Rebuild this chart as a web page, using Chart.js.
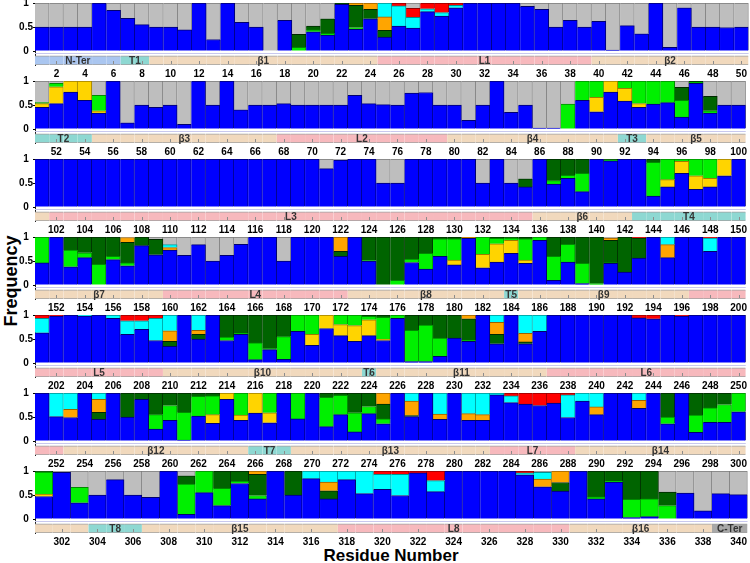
<!DOCTYPE html>
<html>
<head>
<meta charset="utf-8">
<title>Secondary structure frequency per residue</title>
<script src="https://cdn.jsdelivr.net/npm/chart.js@4.4.1/dist/chart.umd.min.js"></script>
<style>
  body { margin: 0; background: #fff; }
  #page { position: relative; width: 750px; height: 563px; overflow: hidden; background: #fff; }
  #page canvas { position: absolute; left: 0; }
  .axis-title { position: absolute; font: bold 18px 'Liberation Sans', Arial, sans-serif; color: #000; white-space: nowrap; }
  #ytitle { left: 11px; top: 281px; transform: translate(-50%, -50%) rotate(-90deg); }
  #xtitle { left: 391px; top: 556px; font-size: 17px; transform: translate(-50%, -50%); }
</style>
</head>
<body>
<div id="page">
  <div class="axis-title" id="ytitle">Frequency</div>
  <div class="axis-title" id="xtitle">Residue Number</div>
</div>
<script>
// residues shown on each of the seven rows
const rowFirst = [1, 51, 101, 151, 201, 251, 301];
const rowLast = [50, 100, 150, 200, 250, 300, 340];

// per-residue frequencies, one value per residue 1..340 (ten per group, one row per line)
const blue = [
  .5,.5,.5,.5,1,.85,.68,.55,.5,.5, .44,1,.24,1,.6,.5,0,.64,0,.4, .33,.97,.45,.67,.29,.52,.48,.82,.73,.9, 1,1,1,1,.93,.87,.5,.64,.5,.62, .02,.53,.36,1,.08,.9,.5,.5,.49,.5,
  .45,.53,.77,.6,.33,1,.13,.5,.45,.5, .1,1,.5,1,.4,.5,.5,.53,.5,.5, .5,.5,.7,.53,.51,.5,.75,.76,.5,.5, .18,.5,1,.35,.5,.02,.02,0,.6,.36, .77,.58,.45,.52,.55,.25,.95,.33,.5,.5,
  1,1,1,1,1,1,1,1,1,1, 1,1,1,1,1,1,1,1,1,1, .8,.98,1,1,.5,.5,1,1,1,1, 1,.5,1,.5,.42,1,.48,.6,.32,1, .96,1,1,.23,.42,.7,.37,.42,.65,1,
  .46,1,.38,.57,0,.53,.4,.82,.63,.73, .62,.84,.5,.62,.85,1,1,.5,1,1, 1,.6,1,.5,0,0,.47,.33,.6,.42, .97,.36,.48,.66,.45,.93,.1,.48,.03,0, .45,.27,.56,1,.57,1,1,.7,1,1,
  .63,.98,1,.98,1,.93,.6,.7,.47,.35, 1,.5,1,.47,.6,.07,.28,.08,.66,.37, .72,.57,.45,.57,.47,.93,.03,.03,.14,.52, .45,1,.4,1,.4,.66,1,1,1,1, 1,1,.94,.92,1,.98,1,1,1,1,
  1,.51,.49,1,.45,1,.5,.87,.25,.43, .02,.52,.37,.87,.43,.58,.38,1,.46,1, .3,.55,.19,.57,.36,1,.51,1,.45,1, .43,.43,.96,.8,.77,.74,.79,.49,.83,.55, 1,1,.68,1,.36,1,.18,.39,.39,.61,
  .47,.97,.34,.5,.82,.5,.45,1,.1,.55, .28,.74,.42,1,.5,.84,.42,.82,.53,.62, .49,.96,.57,1,1,1,1,.92,.67,.58, 1,.42,.77,.03,.05,0,.54,.17,.53,.51
];
const gold = [
  0,0,0,0,0,0,0,0,0,0, 0,0,0,0,0,0,0,0,0,0, 0,0,0,0,0,0,0,0,0,0, 0,0,0,0,0,0,0,0,0,0, 0,0,0,0,0,0,0,0,0,0,
  .08,.35,.23,.4,.05,0,0,0,0,0, 0,0,0,0,0,0,0,0,0,0, 0,0,0,0,0,0,0,0,0,0, 0,0,0,0,0,0,0,0,0,.3, .23,.27,.08,0,0,0,0,0,0,0,
  0,0,0,0,0,0,0,0,0,0, 0,0,0,0,0,0,0,0,0,0, 0,0,0,0,0,0,0,0,0,0, 0,0,0,0,0,0,0,0,0,0, 0,0,0,0,.15,.25,.28,.18,.35,0,
  0,0,0,0,0,0,0,0,0,0, 0,0,0,0,0,0,0,0,0,0, 0,0,0,0,0,0,0,0,0,.1, 0,.28,.38,.27,.07,0,0,0,0,0, 0,0,0,0,0,0,0,0,0,0,
  0,0,0,0,0,0,0,0,0,0, 0,0,0,0,0,0,0,0,0,.23, .28,.23,.33,.33,.03,0,0,0,0,0, 0,0,0,0,0,0,0,0,0,0, 0,0,0,0,0,0,0,0,0,0,
  0,0,0,0,0,0,0,0,0,0, 0,0,.18,.13,.11,.42,.21,0,0,0, 0,0,0,0,0,0,0,0,0,0, 0,0,0,0,0,0,0,0,0,0, 0,0,0,0,0,0,0,0,0,0,
  .05,0,0,0,0,0,0,0,0,0, 0,0,0,0,0,0,0,0,0,0, 0,0,0,0,0,0,0,0,0,0, 0,0,0,0,0,0,0,0,0,0
];
const green = [
  0,0,0,0,0,0,0,0,0,0, 0,0,0,0,0,0,0,0,.08,.04, .04,0,.04,0,0,0,0,0,0,0, 0,0,0,0,0,0,0,0,0,0, 0,0,0,0,0,0,0,0,0,0,
  .02,.07,0,0,.32,0,0,0,0,0, 0,0,0,0,0,0,0,0,0,0, 0,0,0,0,0,0,0,0,0,0, 0,0,0,0,0,0,0,.52,.4,.34, 0,.15,.47,.48,.45,.35,.02,.05,0,0,
  0,0,0,0,0,0,0,0,0,0, 0,0,0,0,0,0,0,0,0,0, 0,0,0,0,0,0,0,0,0,0, 0,0,0,0,0,0,.07,.06,.38,0, .02,0,0,.7,.43,.05,.35,.4,0,0,
  .54,0,.35,.1,.43,.07,.06,0,0,0, 0,0,0,0,0,0,0,0,0,0, 0,0,0,.01,0,.1,.07,.33,.36,.44, 0,.36,.11,.05,.44,.07,.5,.37,.42,.03, .01,0,0,0,0,0,0,0,0,0,
  0,0,0,0,0,0,0,0,0,0, 0,0,0,.07,.02,.35,.02,.47,.34,.4, 0,.2,.22,.07,.45,.07,.65,.76,.38,0, .03,0,0,0,0,0,0,0,0,0, 0,0,0,0,0,0,0,0,0,0,
  0,0,0,0,0,0,0,0,.3,.31, .58,.41,.39,0,.46,0,.41,0,.54,0, .61,.4,.4,.15,.1,0,0,0,0,0, 0,0,0,0,0,0,0,0,0,0, 0,0,0,0,.14,0,.36,.3,.37,.39,
  .46,0,.32,0,0,0,0,0,.63,.45, .36,.05,.07,0,0,0,0,0,0,0, 0,0,0,0,0,0,0,0,0,0, 0,.04,.02,.38,.37,.28,0,0,0,0
];
const darkGreen = [
  0,0,0,0,0,0,0,0,0,0, 0,0,0,0,0,0,0,0,.27,.08, .3,.03,.46,.2,.14,0,0,0,0,0, 0,0,0,0,0,0,0,0,0,0, 0,0,0,0,0,0,0,0,0,0,
  0,0,0,0,0,0,0,0,0,0, 0,0,0,0,0,0,0,0,0,0, 0,0,0,0,0,0,0,0,0,0, 0,0,0,0,0,0,0,0,0,0, 0,0,0,0,0,.27,.03,.3,0,0,
  0,0,0,0,0,0,0,0,0,0, 0,0,0,0,0,0,0,0,0,0, 0,0,0,0,0,0,0,0,0,0, 0,0,0,0,.17,0,.45,.34,.3,0, .02,0,0,.07,0,0,0,0,0,0,
  0,0,.27,.33,.57,.4,.43,.18,.32,0, 0,0,0,0,0,0,0,0,0,0, 0,.1,0,.49,1,.9,.46,.34,.04,.04, 0,0,.03,.02,.04,0,.4,.15,.55,.97, .47,.73,.42,0,0,0,0,0,0,0,
  0,0,0,0,0,0,0,0,0,.1, 0,.1,0,.46,.38,.58,.7,.45,0,0, 0,0,0,.03,.05,0,.32,.21,.48,.48, .44,0,.2,0,.04,0,0,0,0,0, 0,0,0,0,0,0,0,0,0,0,
  0,0,0,0,.15,0,.5,.13,.45,.26, .4,.07,.06,0,0,0,0,0,0,0, .09,.05,.41,.28,.31,0,.02,0,0,0, 0,0,0,0,0,0,0,0,0,0, 0,0,0,0,.5,0,.46,.31,.24,0,
  .02,0,0,0,0,0,0,0,.17,0, .36,.21,.44,0,.5,0,.17,0,0,0, 0,0,0,0,0,0,0,0,0,.18, 0,.54,.21,.59,.58,.28,0,0,0,0
];
const orange = [
  0,0,0,0,0,0,0,0,0,0, 0,0,0,0,0,0,0,0,0,0, 0,0,.05,.13,.28,0,0,0,0,0, 0,0,0,0,0,0,0,0,0,0, 0,0,0,0,0,0,0,0,0,0,
  0,0,0,0,0,0,0,0,0,0, 0,0,0,0,0,0,0,0,0,0, 0,0,0,0,0,0,0,0,0,0, 0,0,0,0,0,0,0,0,0,0, 0,0,0,0,0,0,0,0,0,0,
  0,0,0,0,0,0,0,0,0,0, 0,0,0,0,0,0,0,0,0,0, 0,0,0,0,0,0,0,0,0,0, 0,0,0,0,0,0,0,0,0,0, 0,0,0,0,0,0,0,0,0,0,
  0,0,0,0,0,0,.1,0,0,.05, 0,0,0,0,0,0,0,0,0,0, 0,.3,0,0,0,0,0,0,0,0, .03,0,0,0,0,0,0,0,0,0, .05,0,0,0,.27,0,0,0,0,0,
  0,0,0,0,0,0,0,0,0,.22, 0,.08,0,0,0,0,0,0,0,0, 0,0,0,0,0,0,0,0,0,0, .08,0,.25,0,.18,0,0,0,0,0, 0,0,0,0,0,0,0,0,0,0,
  0,0,.17,0,.27,0,0,0,0,0, 0,0,0,0,0,0,0,0,0,0, 0,0,0,0,.23,0,.3,0,.11,0, .14,.12,0,0,0,0,0,0,0,.16, 0,0,.17,0,0,0,0,0,0,0,
  0,0,0,0,0,0,0,0,0,0, 0,0,.07,0,0,0,.18,0,0,0, 0,0,0,0,0,0,0,0,.16,.24, 0,0,0,0,0,0,0,0,0,0
];
const cyan = [
  0,0,0,0,0,0,0,0,0,0, 0,0,0,0,0,0,0,0,0,0, 0,0,0,0,.29,.42,.22,.06,.07,.05, 0,0,0,0,0,0,0,0,0,0, 0,0,0,0,0,0,0,0,0,0,
  0,0,0,0,0,0,0,0,0,0, 0,0,0,0,0,0,0,0,0,0, 0,0,0,0,0,0,0,0,0,0, 0,0,0,0,0,0,0,0,0,0, 0,0,0,0,0,0,0,0,0,0,
  0,0,0,0,0,0,0,0,0,0, 0,0,0,0,0,0,0,0,0,0, 0,0,0,0,0,0,0,0,0,0, 0,0,0,0,0,0,0,0,0,0, 0,0,0,0,0,0,0,0,0,0,
  0,0,0,0,0,0,0,0,0,.06, 0,0,0,0,0,0,0,0,0,0, 0,0,0,0,0,0,0,0,0,0, 0,0,0,0,0,0,0,0,0,0, 0,0,0,0,.16,0,0,.28,0,0,
  .3,0,0,.02,0,.07,.28,.18,.46,.33, 0,.32,0,0,0,0,0,0,0,0, 0,0,0,0,0,0,0,0,0,0, 0,0,.15,0,.38,.34,0,0,0,0, 0,0,0,0,0,0,0,0,0,0,
  0,.49,.34,0,.13,0,0,0,0,0, 0,0,0,0,0,0,0,0,0,0, 0,0,0,0,0,0,.17,0,.44,0, .43,.45,.04,.14,0,0,0,.47,.17,.29, 0,0,.15,0,0,0,0,0,0,0,
  0,0,0,0,0,0,0,0,0,0, 0,0,0,0,0,.16,.23,.18,.47,.31, .44,0,.23,0,0,0,0,.04,.14,0, 0,0,0,0,0,0,0,0,0,0
];
const red = [
  0,0,0,0,0,0,0,0,0,0, 0,0,0,0,0,0,0,0,0,0, 0,0,0,0,0,.06,.19,.12,.2,.05, 0,0,0,0,0,0,0,0,0,0, 0,0,0,0,0,0,0,0,0,0,
  0,0,0,0,0,0,0,0,0,0, 0,0,0,0,0,0,0,0,0,0, 0,0,0,0,0,0,0,0,0,0, 0,0,0,0,0,0,0,0,0,0, 0,0,0,0,0,0,0,0,0,0,
  0,0,0,0,0,0,0,0,0,0, 0,0,0,0,0,0,0,0,0,0, 0,0,0,0,0,0,0,0,0,0, 0,0,0,0,0,0,0,0,0,0, 0,0,0,0,0,0,0,0,0,0,
  0,0,0,0,0,0,0,0,0,0, 0,0,0,0,0,0,0,0,0,0, 0,0,0,0,0,0,0,0,0,0, 0,0,0,0,0,0,0,0,0,0, 0,0,.02,0,0,0,0,.02,0,0,
  .07,.02,0,0,0,0,.12,.12,.07,0, 0,0,0,0,0,0,0,0,0,0, 0,0,0,0,0,0,0,0,0,0, 0,0,0,0,0,0,0,0,0,0, 0,0,.06,.08,0,.02,0,0,0,0,
  0,0,0,0,0,0,0,0,0,0, 0,0,0,0,0,0,0,0,0,0, 0,0,0,0,0,0,0,0,0,0, 0,0,0,.06,.23,.26,.21,.04,0,0, 0,0,0,0,0,0,0,0,0,0,
  0,0,0,0,0,0,0,0,0,0, 0,0,0,0,0,0,0,0,0,.07, .07,.04,.2,0,0,0,0,.04,0,0, 0,0,0,0,0,0,0,0,0,0
];
const gray = [
  .5,.5,.5,.5,0,.15,.32,.45,.5,.5, .56,0,.76,0,.4,.5,1,.36,.65,.48, .33,0,0,0,0,0,.11,0,0,0, 0,0,0,0,.07,.13,.5,.36,.5,.38, .98,.47,.64,0,.92,.1,.5,.5,.51,.5,
  .45,.05,0,0,.3,0,.87,.5,.55,.5, .9,0,.5,0,.6,.5,.5,.47,.5,.5, .5,.5,.3,.47,.49,.5,.25,.24,.5,.5, .82,.5,0,.65,.5,.98,.98,.48,0,0, 0,0,0,0,0,.13,0,.32,.5,.5,
  0,0,0,0,0,0,0,0,0,0, 0,0,0,0,0,0,0,0,0,0, .2,.02,0,0,.5,.5,0,0,0,0, 0,.5,0,.5,.41,0,0,0,0,0, 0,0,0,0,0,0,0,0,0,0,
  0,0,0,0,0,0,.01,0,.05,.16, .38,.16,.5,.38,.15,0,0,.5,0,0, 0,0,0,0,0,0,0,0,0,0, 0,0,0,0,0,0,0,0,0,0, .02,0,0,0,0,0,0,0,0,0,
  0,0,0,0,0,0,0,0,0,0, 0,0,0,0,0,0,0,0,0,0, 0,0,0,0,0,0,0,0,0,0, 0,0,0,0,0,0,0,0,0,0, 0,0,0,0,0,0,0,0,0,0,
  0,0,0,0,0,0,0,0,0,0, 0,0,0,0,0,0,0,0,0,0, 0,0,0,0,0,0,0,0,0,0, 0,0,0,0,0,0,0,0,0,0, 0,0,0,0,0,0,0,0,0,0,
  0,.03,.34,.5,.18,.5,.55,0,.1,0, 0,0,0,0,0,0,0,0,0,0, 0,0,0,0,0,0,0,0,.03,0, 0,0,0,0,0,.44,.46,.83,.47,.49
];

// secondary structure segments (first and last residue of each)
const ssNames = ['N-Ter','T1','β1','L1','β2','T2','β3','L2','β4','T3','β5','L3','β6','T4','β7','L4','β8','T5','β9','L5',
  'β10','T6','β11','L6','β12','T7','β13','L7','β14','T8','β15','L8','β16','C-Ter'];
const ssStart = [1,7,9,25,40,51,55,68,80,92,94,102,136,143,151,160,173,184,185,197,210,224,225,237,253,266,269,283,289,304,307,318,331,339];
const ssEnd = [6,8,24,39,50,54,67,79,91,93,101,135,142,150,159,172,183,184,196,209,223,224,236,252,265,268,282,288,303,306,317,330,338,340];

// stacking order bottom -> top
const series = [blue, gold, green, darkGreen, orange, cyan, red, gray];
const seriesFill = ['#0000ff', '#ffd400', '#00f000', '#006400', '#ffa500', '#00ffff', '#ff0000', '#bebebe'];
const seriesEdge = ['#00006e', '#9c7d00', '#008a00', '#002800', '#9a6000', '#009090', '#900000', '#7a7a7a'];
const ssFill = {N: '#aac6f0', T: '#8ed8d2', b: '#f1d9bd', L: '#f7b9bd', C: '#a8a8a8'};

series.forEach((s, i) => { if (s.length !== 340) throw new Error('series ' + i + ' has ' + s.length + ' values'); });

const BAND_LO = -0.29, BAND_HI = -0.1;
const FONT = "'Liberation Sans', Arial, Helvetica, sans-serif";
const ROW_TOP = 3.3, ROW_STEP = 77.9, PAD_TOP = 8;

function ssKind(name) {
  if (name === 'N-Ter') return 'N';
  if (name === 'C-Ter') return 'C';
  return name[0] === 'β' ? 'b' : name[0];
}

function segmentOf(r) {
  for (let j = 0; j < ssNames.length; j++) {
    if (r >= ssStart[j] && r <= ssEnd[j]) return j;
  }
  return -1;
}

const bandPlugin = {
  id: 'ssband',
  afterDatasetsDraw(chart, args, opts) {
    const {ctx, chartArea, scales: {x, y}} = chart;
    const first = opts.first, last = opts.last;
    ctx.save();
    // faint baseline under the bars
    const yl = Math.round(y.getPixelForValue(-0.045)) + 0.5;
    ctx.strokeStyle = '#c8c8ee';
    ctx.lineWidth = 1;
    ctx.beginPath();
    ctx.moveTo(chartArea.left, yl);
    ctx.lineTo(chartArea.right, yl);
    ctx.stroke();
    // small ticks inside the band at labelled residues
    const yb = y.getPixelForValue(BAND_LO);
    ctx.strokeStyle = '#8c8c8c';
    for (let r = first; r <= last; r++) {
      if (r % 2) continue;
      const px = Math.round(x.getPixelForValue(r - first)) + 0.5;
      ctx.beginPath();
      ctx.moveTo(px, yb - 1);
      ctx.lineTo(px, yb - 4);
      ctx.stroke();
    }
    // segment names
    ctx.font = 'bold 10px ' + FONT;
    ctx.fillStyle = '#333';
    ctx.textAlign = 'center';
    ctx.textBaseline = 'middle';
    const ym = y.getPixelForValue((BAND_LO + BAND_HI) / 2);
    ssNames.forEach((name, j) => {
      const a = Math.max(ssStart[j], first), b = Math.min(ssEnd[j], last);
      if (a > b) return;
      if (2 * (b - a + 1) <= ssEnd[j] - ssStart[j] + 1) return;
      const px = (x.getPixelForValue(a - first) + x.getPixelForValue(b - first)) / 2;
      ctx.fillText(name, px, ym + 0.5);
    });
    ctx.restore();
  }
};

const page = document.getElementById('page');

rowFirst.forEach((first, k) => {
  const last = rowLast[k];
  const labels = [];
  for (let r = first; r <= last; r++) labels.push(String(r));

  const datasets = [];
  const cum = labels.map(() => 0);
  series.forEach((s, si) => {
    const data = labels.map((lab, i) => {
      const v = s[first - 1 + i];
      const lo = cum[i];
      cum[i] += v;
      return v > 0 ? [lo, lo + v] : null;
    });
    datasets.push({
      data: data,
      backgroundColor: seriesFill[si],
      borderColor: seriesEdge[si],
      borderWidth: {top: 1, right: 1, bottom: 0, left: 0},
      borderSkipped: false,
      barPercentage: 1,
      categoryPercentage: 1
    });
  });
  datasets.push({
    data: labels.map(() => [BAND_LO, BAND_HI]),
    backgroundColor: labels.map((lab, i) => ssFill[ssKind(ssNames[segmentOf(first + i)])]),
    borderColor: '#a0a0a0',
    borderWidth: {top: 1, right: 0, bottom: 1, left: 0},
    borderSkipped: false,
    barPercentage: 1,
    categoryPercentage: 1
  });

  const canvas = document.createElement('canvas');
  canvas.width = 750;
  canvas.height = 86;
  canvas.style.top = (ROW_TOP + ROW_STEP * k - PAD_TOP) + 'px';
  page.appendChild(canvas);

  new Chart(canvas, {
    type: 'bar',
    data: {labels: labels, datasets: datasets},
    options: {
      responsive: false,
      animation: false,
      layout: {padding: {top: PAD_TOP, right: 1, bottom: 0, left: 0}},
      plugins: {
        legend: {display: false},
        tooltip: {enabled: false},
        ssband: {first: first, last: last}
      },
      scales: {
        x: {
          stacked: true,
          grid: {display: false, drawTicks: false},
          border: {display: false},
          afterFit: sc => { sc.height = 16; },
          ticks: {
            autoSkip: false,
            maxRotation: 0,
            padding: 3,
            color: '#000',
            font: {family: FONT, size: 10, weight: 'bold'},
            callback: (v, i) => ((first + i) % 2 === 0 ? String(first + i) : '')
          }
        },
        y: {
          min: BAND_LO,
          max: 1,
          afterBuildTicks: sc => { sc.ticks = [0, 0.5, 1].map(v => ({value: v})); },
          afterFit: sc => { sc.width = 35; },
          grid: {drawOnChartArea: false, drawTicks: true, tickLength: 2, color: '#000'},
          border: {color: '#222', width: 1},
          ticks: {
            crossAlign: 'center',
            padding: 0,
            color: '#000',
            font: {family: FONT, size: 10, weight: 'bold'},
            callback: v => String(v)
          }
        }
      }
    },
    plugins: [bandPlugin]
  });
});
</script>
</body>
</html>
